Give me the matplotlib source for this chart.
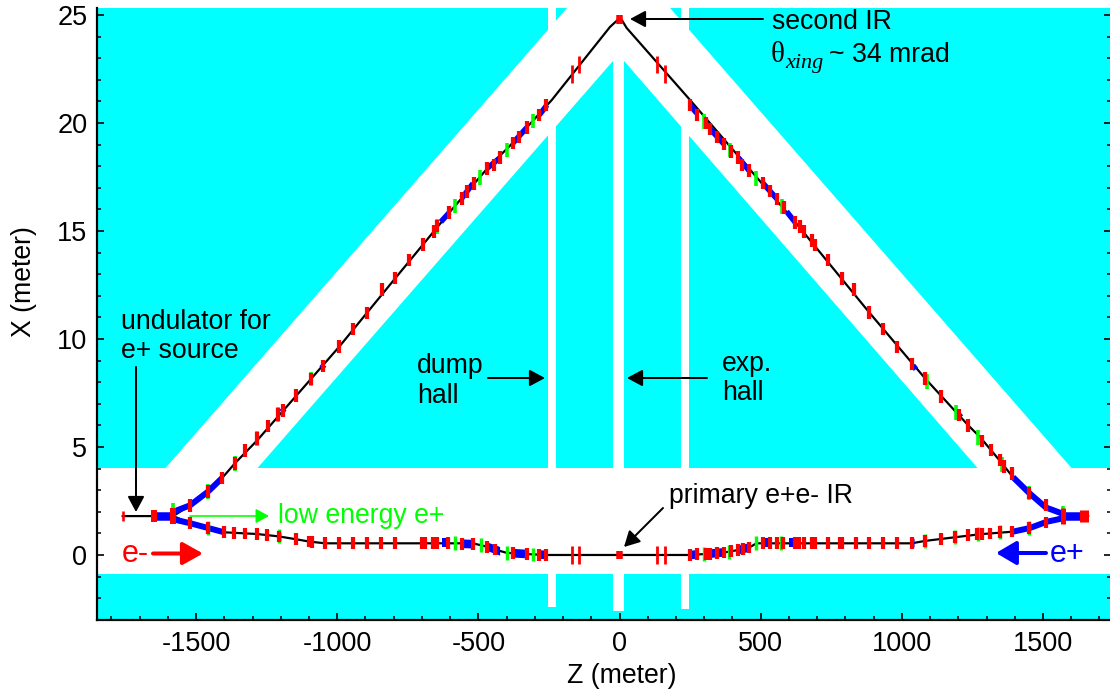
import matplotlib
matplotlib.use('Agg')
import matplotlib.pyplot as plt
from matplotlib.ticker import MultipleLocator

W, H = 1110, 689

# beam line, upper arm goes over the second IR
path_up_z = [-1760, -1581, -1521, -1458, -1408, -1362, -1284, -993, -795, -603, -468, -378, -240, -34, -4, 8, 25, 250,
             623, 885, 1082, 1236, 1277, 1348, 1394, 1451, 1510, 1572, 1660]
path_up_x = [1.8, 1.8, 2.3, 2.93, 3.56, 4.25, 5.3, 9.64, 12.8, 15.85, 17.9, 19.08, 21.06, 24.44, 24.8, 24.77, 24.4, 21.06,
             15.4, 11.22, 8.18, 5.99, 5.46, 4.35, 3.6, 2.87, 2.2, 1.8, 1.8]
# lower arm through the primary IR
path_lo_z = [-1581, -1521, -1458, -1400, -1284, -1207, -1147, -1099, -1043, -520, -468, -441, -400, -329, -257,
             250, 321, 370, 394, 421, 459, 485, 1035, 1082, 1138, 1188, 1277, 1394, 1454, 1514, 1572]
path_lo_x = [1.8, 1.47, 1.25, 1.05, 0.97, 0.86, 0.73, 0.62, 0.54, 0.54, 0.38, 0.25, 0.1, 0.04, 0,
             0, 0.06, 0.11, 0.17, 0.23, 0.34, 0.54, 0.54, 0.65, 0.74, 0.82, 0.96, 1.08, 1.25, 1.54, 1.8]

# red magnets
red_up_z = [-1521, -1458, -1408, -1362, -1327, -1285, -1244, -1209, -1193, -1147, -1094, -1049, -993, -943, -893,
            -842, -795, -746, -695, -657, -645, -603, -559, -541, -515, -468, -443, -423, -378, -356, -329, -284, -260,
            250, 276, 306, 321, 346, 370, 395, 421, 435, 459, 508, 532, 558, 582, 623, 638, 655, 681, 692, 737, 789, 832,
            885, 934, 984, 1035, 1082, 1138, 1203, 1236, 1285, 1317, 1348, 1362, 1389, 1451, 1510]
red_up_x = [2.3, 2.93, 3.56, 4.24, 4.83, 5.4, 5.98, 6.51, 6.68, 7.38, 8.15, 8.75, 9.64, 10.46, 11.21,
            12.3, 12.82, 13.66, 14.38, 14.97, 15.22, 15.85, 16.51, 16.82, 17.2, 17.9, 18.05, 18.39, 19.06, 19.34, 19.78, 20.37, 20.83,
            20.83, 20.37, 20.0, 19.72, 19.34, 19.02, 18.67, 18.39, 18.06, 17.79, 17.21, 16.85, 16.48, 16.09, 15.4, 15.2, 14.97, 14.55, 14.35, 13.66, 12.81, 12.3,
            11.22, 10.46, 9.62, 8.84, 8.18, 7.33, 6.48, 5.99, 5.28, 4.86, 4.4, 4.09, 3.78, 2.87, 2.31]
red_lo_z = [-1521, -1458, -1400, -1365, -1326, -1284, -1249, -1207, -1147, -1099, -1088, -1043, -993, -943, -894, -846, -795,
            -701, -689, -660, -645, -606, -559, -520, -468, -441, -376, -329, -284, -260,
            250, 276, 305, 321, 346, 370, 394, 421, 436, 459, 509, 533, 557, 580, 622, 637, 655, 681, 692, 737, 781, 789, 837,
            885, 934, 984, 1035, 1082, 1138, 1188, 1236, 1268, 1285, 1312, 1348, 1391, 1452, 1510]
red_lo_x = [1.47, 1.25, 1.05, 1.03, 1.0, 0.97, 0.93, 0.86, 0.73, 0.62, 0.6, 0.54, 0.54, 0.54, 0.54, 0.54, 0.54,
            0.54, 0.54, 0.54, 0.54, 0.54, 0.52, 0.5, 0.38, 0.25, 0.08, 0.04, 0.01, 0,
            0, 0.03, 0.05, 0.06, 0.09, 0.11, 0.17, 0.23, 0.27, 0.34, 0.54, 0.54, 0.54, 0.54, 0.54, 0.54, 0.54, 0.54, 0.54, 0.54, 0.54, 0.54, 0.54,
            0.54, 0.54, 0.54, 0.54, 0.65, 0.74, 0.82, 0.93, 0.96, 0.97, 1.0, 1.05, 1.08, 1.24, 1.5]
# taller thin magnets either side of the IRs
tall_z = [-169, -142, 134, 162, -169, -142, 134, 162]
tall_x = [0, 0, 0, 0, 22.27, 22.69, 22.69, 22.27]
# short wide blocks
block_z = [-1650, -1581, 1572, 1645, -7, 5, -7, 5]
block_x = [1.8, 1.8, 1.8, 1.8, 0, 0, 24.8, 24.8]
block_w = [6, 6, 5, 9, 3.5, 3.5, 3.5, 3.5]
block_h = [0.28, 0.37, 0.37, 0.26, 0.2, 0.2, 0.2, 0.2]

# green magnets
green_up_z = [-1581, -1458, -1362, -1285, -1209, -1094, -645, -583, -493, -399, -307,
              299, 391, 485, 574, 1090, 1192, 1271, 1356, 1451, 1572]
green_up_x = [2.05, 2.93, 4.24, 5.4, 6.51, 8.15, 15.22, 16.16, 17.48, 18.75, 20.09,
              20.07, 18.75, 17.44, 16.12, 8.02, 6.61, 5.43, 4.2, 2.87, 1.95]
green_lo_z = [-1458, -1207, -583, -492, -400, -307, 299, 389, 485, 572, 1082, 1188, 1271, 1348, 1452]
green_lo_x = [1.25, 0.86, 0.54, 0.48, 0.1, 0.02, 0.04, 0.15, 0.54, 0.54, 0.65, 0.82, 0.96, 1.05, 1.24]

# blue stretches (start, end)
blue_up_z = [(-1197, -1187), (-1056, -1046), (-633, -603), (-559, -519), (-469, -423), (-378, -329), (-284, -257),
             (250, 273), (321, 370), (421, 459), (508, 558), (592, 622), (1040, 1050), (1200, 1210)]
blue_up_x = [(6.62, 6.77), (8.65, 8.8), (15.42, 15.85), (16.51, 17.2), (17.9, 18.39), (19.06, 19.78), (20.37, 20.83),
             (20.83, 20.45), (19.72, 19.02), (18.39, 17.79), (17.21, 16.48), (15.9, 15.4), (8.76, 8.6), (6.52, 6.38)]
blue_lo_z = [(-1210, -1198), (-1050, -1040), (-630, -606), (-559, -520), (-468, -423), (-376, -335), (-284, -255),
             (255, 276), (321, 368), (421, 459), (509, 533), (600, 622), (1035, 1045), (1184, 1192), (1344, 1352)]
blue_lo_x = [(0.86, 0.84), (0.54, 0.54), (0.58, 0.58), (0.52, 0.5), (0.38, 0.17), (0.08, 0.05), (0.02, 0),
             (0, 0.03), (0.06, 0.12), (0.23, 0.34), (0.58, 0.58), (0.58, 0.58), (0.54, 0.55), (0.82, 0.83), (1.05, 1.06)]
# heavy blue near the ends, left then right
end_up_l_z = [-1581, -1521, -1458, -1408]
end_up_l_x = [2.0, 2.3, 2.93, 3.56]
end_lo_l_z = [-1581, -1521, -1458, -1400]
end_lo_l_x = [1.65, 1.47, 1.25, 1.05]
end_up_r_z = [1394, 1451, 1510, 1572]
end_up_r_x = [3.6, 2.87, 2.2, 1.9]
end_lo_r_z = [1394, 1454, 1514, 1572]
end_lo_r_x = [1.08, 1.25, 1.54, 1.7]
end_mid_z = [(-1650, -1581), (1572, 1645)]

# tunnel outline
chevron_z = [-1610, -186, 179, 1603, 1270, 16, -23, -1284]
chevron_x = [4, 25.32, 25.32, 4, 4, 22.87, 22.87, 4]
strip_z = [(-253, -225), (-23, 16), (218, 246)]
strip_bottom = [-2.41, -2.6, -2.5]
band_x = (-0.88, 4.03)

x_ticks = [-1500, -1000, -500, 0, 500, 1000, 1500]
y_ticks = [0, 5, 10, 15, 20, 25]


def pt(px):
    return px * 0.72


def fp(x, y):
    return x / W, 1 - y / H


plt.rcParams['font.family'] = ['Liberation Sans', 'DejaVu Sans']
plt.rcParams['axes.unicode_minus'] = False

fig = plt.figure(figsize=(W / 100, H / 100), dpi=100)
ax = fig.add_axes([97 / W, 1 - 620 / H, (1111 - 97) / W, 612 / H])
ax.set_xlim(-1851, 1741)
ax.set_ylim(-3.01, 25.32)
ax.set_facecolor('#00ffff')

ax.fill(chevron_z, chevron_x, color='white', lw=0, zorder=1)
ax.axhspan(band_x[0], band_x[1], color='white', lw=0, zorder=1)
for (z0, z1), b in zip(strip_z, strip_bottom):
    ax.fill([z0, z1, z1, z0], [b, b, 25.32, 25.32], color='white', lw=0, zorder=1)

ax.plot(path_up_z, path_up_x, color='black', lw=pt(2.2), zorder=2)
ax.plot(path_lo_z, path_lo_x, color='black', lw=pt(2.2), zorder=2)

for zs, xs in zip(blue_up_z, blue_up_x):
    ax.plot(zs, xs, color='#0000ff', lw=pt(5.5), solid_capstyle='butt', zorder=3)
for (z0, z1), (x0, x1) in zip(blue_lo_z, blue_lo_x):
    ax.fill([z0, z1, z1, z0], [x0 - 0.2, x1 - 0.2, x1 + 0.2, x0 + 0.2], color='#0000ff', lw=0, zorder=3)
for zs, xs in [(end_up_l_z, end_up_l_x), (end_lo_l_z, end_lo_l_x), (end_up_r_z, end_up_r_x), (end_lo_r_z, end_lo_r_x)]:
    ax.plot(zs, xs, color='#0000ff', lw=pt(6), solid_capstyle='butt', zorder=3)
for zs in end_mid_z:
    ax.plot(zs, [1.8, 1.8], color='#0000ff', lw=pt(8.5), solid_capstyle='butt', zorder=3)

ax.vlines(green_up_z, [v - 0.34 for v in green_up_x], [v + 0.34 for v in green_up_x], color='#00ff00', lw=pt(3.6), zorder=4)
ax.vlines(green_lo_z, [v - 0.32 for v in green_lo_x], [v + 0.32 for v in green_lo_x], color='#00ff00', lw=pt(3.4), zorder=4)

ax.vlines(red_up_z, [v - 0.29 for v in red_up_x], [v + 0.29 for v in red_up_x], color='#ff0000', lw=pt(4.2), zorder=5)
ax.vlines(red_lo_z, [v - 0.27 for v in red_lo_x], [v + 0.27 for v in red_lo_x], color='#ff0000', lw=pt(4.2), zorder=5)
ax.vlines(tall_z, [v - 0.4 for v in tall_x], [v + 0.4 for v in tall_x], color='#ff0000', lw=pt(2.8), zorder=5)
for z, x, w, h in zip(block_z, block_x, block_w, block_h):
    ax.vlines(z, x - h, x + h, color='#ff0000', lw=pt(w), zorder=5)
ax.vlines(-1760, 1.55, 2.05, color='#ff0000', lw=pt(2.6), zorder=5)

# axes
for s in ['top', 'right']:
    ax.spines[s].set_visible(False)
for s in ['left', 'bottom']:
    ax.spines[s].set_linewidth(pt(2.2))
ax.set_xticks(x_ticks)
ax.set_yticks(y_ticks)
ax.xaxis.set_minor_locator(MultipleLocator(100))
ax.yaxis.set_minor_locator(MultipleLocator(1))
ax.tick_params(which='major', direction='in', length=5, width=1.2, right=True, labelsize=19.5)
ax.tick_params(which='minor', direction='in', length=3, width=1.1, right=True)
ax.tick_params(axis='x', which='major', pad=8)
ax.tick_params(axis='y', which='major', pad=7)
for t in ax.get_xticklines() + ax.get_yticklines():
    t.set_zorder(8)


def label(x, y, s, color='black', size=19.2, **kw):
    fx, fy = fp(x, y)
    fig.text(fx, fy, s, color=color, fontsize=size, va='baseline', **kw)


def arrow(start, tip, color='black', lw=2, head=(13, 7)):
    ax.annotate('', xy=fp(*tip), xytext=fp(*start), xycoords='figure fraction', textcoords='figure fraction',
                arrowprops=dict(arrowstyle=f'-|>,head_length={pt(head[0])},head_width={pt(head[1])}', mutation_scale=1,
                                color=color, lw=pt(lw), shrinkA=0, shrinkB=0), zorder=7)


label(622, 683, 'Z (meter)', ha='center')
fx, fy = fp(24, 282)
fig.text(fx, fy, 'X (meter)', fontsize=19.2, rotation=90, ha='center', va='center')

label(772, 29, 'second IR')
label(771, 62, 'θ', family='Liberation Serif', size=21)
label(785, 68, 'xing', family='Liberation Serif', style='italic', size=16)
label(829, 62, '~ 34 mrad')
label(121, 329, 'undulator for')
label(121, 358, 'e+ source')
label(278, 523, 'low energy e+', color='#00ff00')
label(122, 562, 'e-', color='#ff0000', size=22)
label(1050, 562, 'e+', color='#0000ff', size=22)
label(417, 373, 'dump')
label(417, 403, 'hall')
label(722, 371, 'exp.')
label(722, 400, 'hall')
label(669, 503, 'primary e+e- IR')

arrow((763, 19), (630, 19))
arrow((136, 367), (136, 512))
arrow((488, 378), (545, 378))
arrow((707, 378), (627, 378))
arrow((663, 508), (624, 547))
arrow((190, 516), (269, 516), color='#00ff00', lw=1.6, head=(11, 6))
arrow((153, 553.5), (203, 553.5), color='#ff0000', lw=4, head=(17, 9.5))
arrow((1046, 553), (996, 553), color='#0000ff', lw=4, head=(17, 10))

fig.savefig('out.png', dpi=100)
